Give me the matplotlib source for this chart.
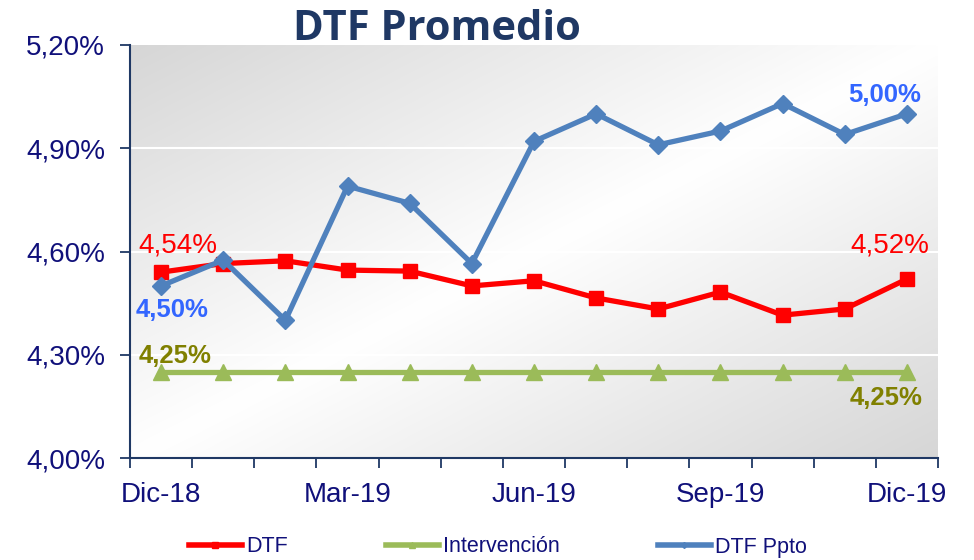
import numpy as np
import matplotlib
matplotlib.use("Agg")
import matplotlib.pyplot as plt
from matplotlib.lines import Line2D

months = ["Dic-18", "Ene-19", "Feb-19", "Mar-19", "Abr-19", "May-19", "Jun-19",
          "Jul-19", "Ago-19", "Sep-19", "Oct-19", "Nov-19", "Dic-19"]
dtf = [4.54, 4.565, 4.573, 4.546, 4.543, 4.50, 4.515, 4.465, 4.433, 4.482, 4.415, 4.433, 4.52]
intervencion = [4.25] * 13
dtf_ppto = [4.50, 4.575, 4.40, 4.79, 4.74, 4.565, 4.92, 5.00, 4.91, 4.95, 5.03, 4.94, 5.00]
yticks = [4.00, 4.30, 4.60, 4.90, 5.20]

NAVY = "#10107a"
plt.rcParams['font.family'] = ['Liberation Sans', 'DejaVu Sans']

fig = plt.figure(figsize=(9.74, 5.6), dpi=100)
ax = fig.add_axes([130/974, 1-458/560, 808/974, 413/560])

x = np.arange(len(months))
ax.set_xlim(-0.5, len(months) - 0.5)
ax.set_ylim(4.0, 5.2)

# gradient background
nx, ny = 200, 200
gx, gy = np.meshgrid(np.linspace(0, 1, nx), np.linspace(1, 0, ny))
s = (gx + (1 - gy)) / 2
v = 1 - 0.16 * np.abs(s - 0.5) / 0.5
img = np.dstack([v, v, v])
ax.imshow(img, extent=[-0.5, len(months) - 0.5, 4.0, 5.2], aspect='auto', zorder=0, interpolation='bilinear')

for yv in yticks[1:-1]:
    ax.axhline(yv, color='white', lw=1.5, zorder=1)

ax.plot(x, dtf, color='#ff0000', lw=3.8, marker='s', ms=10, zorder=4, label='DTF')
ax.plot(x, intervencion, color='#9bbb59', lw=3.8, marker='^', ms=12, zorder=3, label='Intervención')
ax.plot(x, dtf_ppto, color='#4f81bd', lw=3.8, marker='D', ms=9, zorder=5, label='DTF Ppto')

ax.set_yticks(yticks)
ax.set_yticklabels([f"{v:.2f}%".replace('.', ',') for v in yticks], fontsize=20, color=NAVY)
ax.set_xticks(np.arange(-0.5, len(months), 1.0), minor=False)
ax.set_xticklabels([])
ax.set_xticks(x[::3], minor=True)
ax.set_xticklabels([months[i] for i in x[::3]], minor=True, fontsize=20, color=NAVY)
ax.tick_params(axis='x', which='major', length=7, width=1.3, color='#1f3864', direction='out')
ax.tick_params(axis='x', which='minor', length=0, pad=17)
ax.tick_params(axis='y', length=7, width=1.3, color='#1f3864', pad=11)

for side in ['top', 'right']:
    ax.spines[side].set_visible(False)
for side in ['left', 'bottom']:
    ax.spines[side].set_color('#1f3864')
    ax.spines[side].set_linewidth(1.5)

def fmt(v):
    return f"{v:.2f}%".replace('.', ',')

def lab(txt, xi, yi, dx, dy, color, ha, bold, size):
    ax.annotate(txt, (xi, yi), xytext=(dx, dy), textcoords='offset pixels',
                color=color, fontsize=size, ha=ha, va='center', zorder=6,
                fontweight='bold' if bold else 'normal')

lab(fmt(dtf[0]), x[0], dtf[0], -23, 27, '#ff0000', 'left', False, 20)
lab(fmt(dtf_ppto[0]), x[0], dtf_ppto[0], -25, -24, '#3366ff', 'left', True, 18.5)
lab(fmt(intervencion[0]), x[0], intervencion[0], -22, 16, '#808000', 'left', True, 18.5)
lab(fmt(dtf_ppto[-1]), x[-1], dtf_ppto[-1], 14, 19, '#3366ff', 'right', True, 18.5)
lab(fmt(dtf[-1]), x[-1], dtf[-1], 22, 34, '#ff0000', 'right', False, 20)
lab(fmt(intervencion[-1]), x[-1], intervencion[-1], 16, -26, '#808000', 'right', True, 18.5)

fig.text(437/974, 1-40/560, "DTF Promedio", fontsize=30, fontweight='bold', color='#1f3864',
         ha='center', va='baseline', family=['Open Sans', 'DejaVu Sans'])

handles = [
    Line2D([], [], color='#ff0000', lw=4, marker='s', ms=4),
    Line2D([], [], color='#9bbb59', lw=4, marker='^', ms=4),
    Line2D([], [], color='#4f81bd', lw=4, marker='D', ms=3),
]
leg = fig.legend(handles, ['DTF', 'Intervención', 'DTF Ppto'], loc='center', bbox_to_anchor=(498/974, 1-547/560),
                 ncol=3, frameon=False, fontsize=15.5, handlelength=2.46, handletextpad=0.2, columnspacing=4.55)
for t in leg.get_texts():
    t.set_color(NAVY)

fig.savefig("out.png", dpi=100)
